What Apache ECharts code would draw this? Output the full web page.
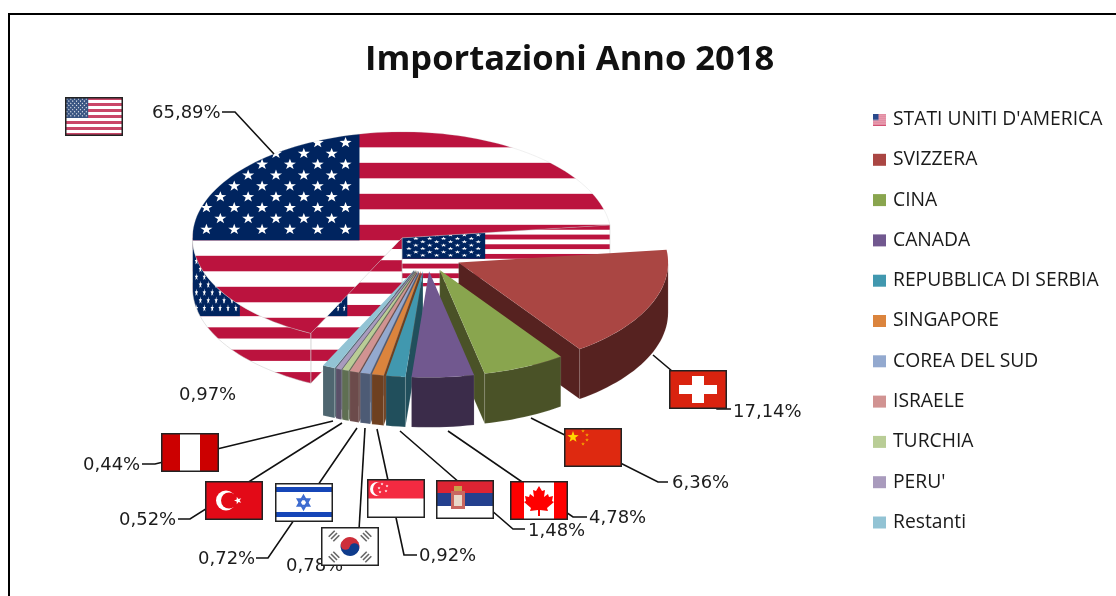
<!DOCTYPE html>
<html><head><meta charset="utf-8">
<style>html,body{margin:0;padding:0;background:#fff}#c{width:1116px;height:596px}</style>
<script src="https://cdn.jsdelivr.net/npm/echarts@6/dist/echarts.min.js"></script>
</head><body><div id="c"></div>
<script>
// ---- data ----
const countries = ["STATI UNITI D'AMERICA","SVIZZERA","CINA","CANADA","REPUBBLICA DI SERBIA","SINGAPORE","COREA DEL SUD","ISRAELE","TURCHIA","PERU'","Restanti"];
const shares = [65.89,17.14,6.36,4.78,1.48,0.92,0.78,0.72,0.52,0.44,0.97];
const explode = [0.205,0.165,0.15,0.15,0.15,0.15,0.15,0.15,0.15,0.15,0.15];
const topColors = ['#BB133E','#AA4643','#89A54E','#71588F','#4198AF','#DB843D','#93A9CF','#D19392','#B9CD96','#A99BBD','#92C3D4'];
const wallColors = ['#BB133E','#562220','#4A5227','#3B2C4A','#214F5C','#6E4020','#4D5B75','#6C4B4B','#5F6F52','#5A5068','#4F6670'];
const flagNames = ['us','ch','cn','ca','rs','sg','kr','il','tr','pe',null];

// ---- layout of the pie and its annotations ----
const CX=427, CY=255.5, RX=209.5, RY=106, DEPTH=50, END_OF_FIRST=83;
const flagPos=[[65,97],[669,370],[564,428],[510,481],[436,480],[367,479],[321,527],[275,483],[205,481],[161,433],null];
const labelPos=[[152,113],[733,412],[672,483],[589,518],[528,531],[419,556],[286,566],[198,559],[119,520],[83,465],[179,395]];
const leaders=[
 [[222,112],[235,112],[274,154]],
 [[653,355],[717,409],[731,409]],
 [[531,418],[658,482],[668,482]],
 [[448,431],[573,517],[587,517]],
 [[400,431],[513,529],[525,529]],
 [[377,429],[404,555],[417,555]],
 [[365,428],[359,530]],
 [[357,428],[268,558],[256,558]],
 [[342,423],[190,519],[178,519]],
 [[333,421],[155,464],[142,464]],
 null];

// ---- flag drawing ----
function makeCanvas(w,h){const c=document.createElement('canvas');c.width=w;c.height=h;return c;}
function star(ctx,x,y,rx,ry,rot){
  ctx.beginPath();
  for(let i=0;i<10;i++){const a=(rot||0)-Math.PI/2+i*Math.PI/5,r=i%2?0.4:1;
    ctx[i?'lineTo':'moveTo'](x+Math.cos(a)*rx*r,y+Math.sin(a)*ry*r);}
  ctx.closePath();ctx.fill();
}
function usFlag(ctx,x,y,w,h){
  ctx.fillStyle='#fff';ctx.fillRect(x,y,w,h);
  ctx.fillStyle='#BB133E';
  for(let i=0;i<13;i+=2)ctx.fillRect(x,y+i*h/13,w,h/13);
  const cw=w*0.4,ch=h*7/13;
  ctx.fillStyle='#00245F';ctx.fillRect(x,y,cw,ch);
  ctx.fillStyle='#fff';
  const rx=cw*0.038,ry=ch*0.052;
  for(let r=1;r<=9;r++){
    if(r%2){for(let k=1;k<12;k+=2)star(ctx,x+k*cw/12,y+r*ch/10,rx,ry);}
    else{for(let k=1;k<6;k++)star(ctx,x+k*cw/6,y+r*ch/10,rx,ry);}
  }
}
function drawFlag(name){
  const W=58,H=39,c=makeCanvas(W,H),g=c.getContext('2d');
  g.fillStyle='#fff';g.fillRect(0,0,W,H);
  const hStripes=(cols)=>cols.forEach((col,i)=>{g.fillStyle=col;g.fillRect(0,i*H/cols.length,W,H/cols.length);});
  if(name==='us'){usFlag(g,0,0,W,H);g.fillStyle='rgba(255,255,255,.22)';g.fillRect(0,0,W,H);}
  if(name==='ch'){g.fillStyle='#D9230F';g.fillRect(0,0,W,H);g.fillStyle='#fff';g.fillRect(23,6,12,27);g.fillRect(10,15,38,9);}
  if(name==='cn'){g.fillStyle='#DE2910';g.fillRect(0,0,W,H);g.fillStyle='#FFD800';star(g,9,9,6,6);g.fillStyle='#F5A000';
    [[19,3],[23,7],[23,12],[19,16]].forEach(p=>star(g,p[0],p[1],2,2));}
  if(name==='ca'){g.fillStyle='#f00';g.fillRect(0,0,14,H);g.fillRect(44,0,14,H);
    const L=[[29,5],[32,10],[35,9],[34,16],[38,13],[39,16],[43,15],[42,20],[44,21],[37,27],[38,30],[30,29],[30,35],[28,35],[28,29],[20,30],[21,27],[14,21],[16,20],[15,15],[19,16],[20,13],[24,16],[23,9],[26,10]];
    g.beginPath();L.forEach((p,i)=>g[i?'lineTo':'moveTo'](p[0],p[1]));g.closePath();g.fill();}
  if(name==='rs'){hStripes(['#DC2433','#23408E','#fff']);
    g.fillStyle='#C9675F';g.fillRect(15,11,14,18);g.fillStyle='#E9D8C8';g.fillRect(18,15,8,11);
    g.fillStyle='#C9A24A';g.fillRect(18,6,8,5);}
  if(name==='sg'){g.fillStyle='#F42A41';g.fillRect(0,0,W,19.5);
    g.fillStyle='#fff';g.beginPath();g.arc(10,10,7,0,7);g.fill();
    g.fillStyle='#F42A41';g.beginPath();g.arc(13,10,7,0,7);g.fill();
    g.fillStyle='#fff';[[15,5],[20,7],[19,12],[13,13],[12,9]].forEach(p=>star(g,p[0],p[1],1.6,1.6));}
  if(name==='kr'){
    g.fillStyle='#CD2E3A';g.beginPath();g.arc(29,19.5,9.5,Math.PI*1.1,Math.PI*0.1);g.fill();
    g.fillStyle='#0F3C8C';g.beginPath();g.arc(29,19.5,9.5,Math.PI*0.1,Math.PI*1.1);g.fill();
    g.fillStyle='#CD2E3A';g.beginPath();g.arc(24.5,18,4.8,0,7);g.fill();
    g.fillStyle='#0F3C8C';g.beginPath();g.arc(33.5,21,4.8,0,7);g.fill();
    g.strokeStyle='#666';g.lineWidth=1.6;
    [[13,9,1],[45,9,-1],[13,30,-1],[45,30,1]].forEach(p=>{for(let k=-1;k<=1;k++){
      const ox=k*2.3,oy=k*2.3*p[2];
      g.beginPath();g.moveTo(p[0]+ox-3,p[1]+oy+3*p[2]);g.lineTo(p[0]+ox+3,p[1]+oy-3*p[2]);g.stroke();}});}
  if(name==='il'){g.fillStyle='#1546B8';g.fillRect(0,4,W,5);g.fillRect(0,29,W,5);
    g.strokeStyle='#3C6BD0';g.lineWidth=2.2;
    [[-Math.PI/2],[Math.PI/2]].forEach(a=>{g.beginPath();for(let i=0;i<3;i++){const t=a[0]+i*2*Math.PI/3;
      g[i?'lineTo':'moveTo'](28.5+Math.cos(t)*6.5,19.5+Math.sin(t)*6.5);}g.closePath();g.stroke();});}
  if(name==='tr'){g.fillStyle='#E30A17';g.fillRect(0,0,W,H);g.fillStyle='#fff';
    g.beginPath();g.arc(21,19.5,10,0,7);g.fill();g.fillStyle='#E30A17';g.beginPath();g.arc(24,19.5,8,0,7);g.fill();
    g.fillStyle='#fff';star(g,33,19.5,4,4,-Math.PI/2);}
  if(name==='pe'){g.fillStyle='#CC0000';g.fillRect(0,0,19,H);g.fillRect(39,0,19,H);}
  g.strokeStyle='#222';g.lineWidth=1.5;g.strokeRect(.75,.75,W-1.5,H-1.5);
  return c;
}
const flagImages = flagNames.map(n=>n?drawFlag(n):null);
function usLegendIcon(){
  const c=makeCanvas(26,24),g=c.getContext('2d');
  g.fillStyle='#FBE3E8';g.fillRect(0,0,26,24);
  g.fillStyle='#D0466A';for(let i=0;i<13;i+=2)g.fillRect(0,i*24/13,26,24/13);
  g.fillStyle='#2A4A8C';g.fillRect(0,0,11,13);
  return 'image://'+c.toDataURL();
}

// ---- pie geometry, all derived from the shares ----
const starts=[],ends=[];
(function(){let a=END_OF_FIRST-shares[0]*3.6;shares.forEach(s=>{starts.push(a);a+=s*3.6;ends.push(a);});})();
const rad=d=>d*Math.PI/180;
function rimPoint(apex,phi){return [apex[0]+RX*Math.sin(rad(phi)),apex[1]-RY*Math.cos(rad(phi))];}
function arc(apex,a,b){const pts=[],n=Math.max(2,Math.ceil((b-a)/2));for(let i=0;i<=n;i++)pts.push(rimPoint(apex,a+(b-a)*i/n));return pts;}
const down=p=>[p[0],p[1]+DEPTH];
function flagFill(points){
  const xs=points.map(p=>p[0]),ys=points.map(p=>p[1]);
  const x0=Math.min(...xs),x1=Math.max(...xs),y0=Math.min(...ys),y1=Math.max(...ys);
  const c=makeCanvas(1116,596);usFlag(c.getContext('2d'),x0,y0,x1-x0,y1-y0);
  return {image:c,repeat:'no-repeat'};
}
const fillCache={};
function faceFill(i,key,points,plain){
  if(i!==0)return plain;
  return fillCache[key]||(fillCache[key]=flagFill(points));
}
function sliceChildren(i){
  const mid=(starts[i]+ends[i])/2;
  const apex=[CX+explode[i]*RX*Math.sin(rad(mid)),CY-explode[i]*RY*Math.cos(rad(mid))];
  const out=[];
  const edge=i===0?'rgba(195,195,195,.8)':'rgba(255,255,255,.18)';
  const wall=(key,pts,z)=>out.push({type:'polygon',z2:z,silent:true,shape:{points:pts},
    style:{fill:faceFill(i,key,pts,wallColors[i]),stroke:edge,lineWidth:.6}});
  const cut=(key,phi)=>{const r=rimPoint(apex,phi);wall(key,[apex,r,down(r),down(apex)],1);};
  if(Math.sin(rad(ends[i]))>0)cut('end',ends[i]);
  if(Math.sin(rad(starts[i]))<0)cut('start',starts[i]);
  const a=Math.max(starts[i]<0?starts[i]+360:starts[i],90),
        b=Math.min(starts[i]<0?ends[i]+360:ends[i],270);
  if(b>a){const f=arc(apex,a,b);wall('outer',f.concat(f.map(down).reverse()),2);}
  const topPts=[apex].concat(arc(apex,starts[i],ends[i]));
  out.push({type:'polygon',z2:3,silent:true,shape:{points:topPts},
    style:{fill:faceFill(i,'top',topPts,topColors[i]),stroke:i===0?'rgba(195,195,195,.5)':null,lineWidth:.5}});
  return out;
}
function depthOrder(i){
  let m=((starts[i]+ends[i])/2+360)%360;
  return 100-Math.abs(m-180)/4;
}
const pieSeries=countries.map((name,i)=>({
  type:'custom',name,coordinateSystem:'none',silent:true,animation:false,
  z:depthOrder(i),
  itemStyle:{color:topColors[i]},
  data:[[shares[i]]],
  renderItem:()=>({type:'group',children:sliceChildren(i)})
}));
const labelFont='18px "DejaVu Sans"';
const annotationSeries={
  type:'custom',name:'etichette',coordinateSystem:'none',silent:true,animation:false,z:200,
  data:shares.map(v=>[v]),
  renderItem:(params,api)=>{
    const i=params.dataIndex,ch=[];
    if(leaders[i])ch.push({type:'polyline',z2:1,silent:true,shape:{points:leaders[i]},style:{fill:null,stroke:'#111',lineWidth:1.6}});
    ch.push({type:'text',z2:2,silent:true,style:{x:labelPos[i][0],y:labelPos[i][1],
      text:api.value(0).toFixed(2).replace('.',',')+'%',font:labelFont,fill:'#1c1c1c',textAlign:'left',textVerticalAlign:'middle'}});
    if(flagImages[i])ch.push({type:'image',z2:3,silent:true,style:{image:flagImages[i],x:flagPos[i][0],y:flagPos[i][1],width:58,height:39}});
    return {type:'group',children:ch};
  }
};
const chart=echarts.init(document.getElementById('c'),null,{renderer:'canvas'});
chart.setOption({
  animation:false,backgroundColor:'#fff',
  title:{text:'Importazioni Anno 2018',left:360,top:38,
    textStyle:{fontFamily:'"Open Sans"',fontWeight:700,fontSize:34.5,color:'#111'}},
  legend:{orient:'vertical',left:868,top:105,itemWidth:13,itemHeight:12,itemGap:21.3,selectedMode:false,
    textStyle:{fontFamily:'"Open Sans"',fontSize:19.3,color:'#1a1a1a',padding:[0,0,0,2]},
    data:countries.map((n,i)=>i===0?{name:n,icon:usLegendIcon()}:{name:n,icon:'rect'})},
  graphic:[{type:'polyline',silent:true,shape:{points:[[9,596],[9,14],[1116,14]]},style:{fill:null,stroke:'#000',lineWidth:2}}],
  series:pieSeries.concat([annotationSeries])
});
</script></body></html>
